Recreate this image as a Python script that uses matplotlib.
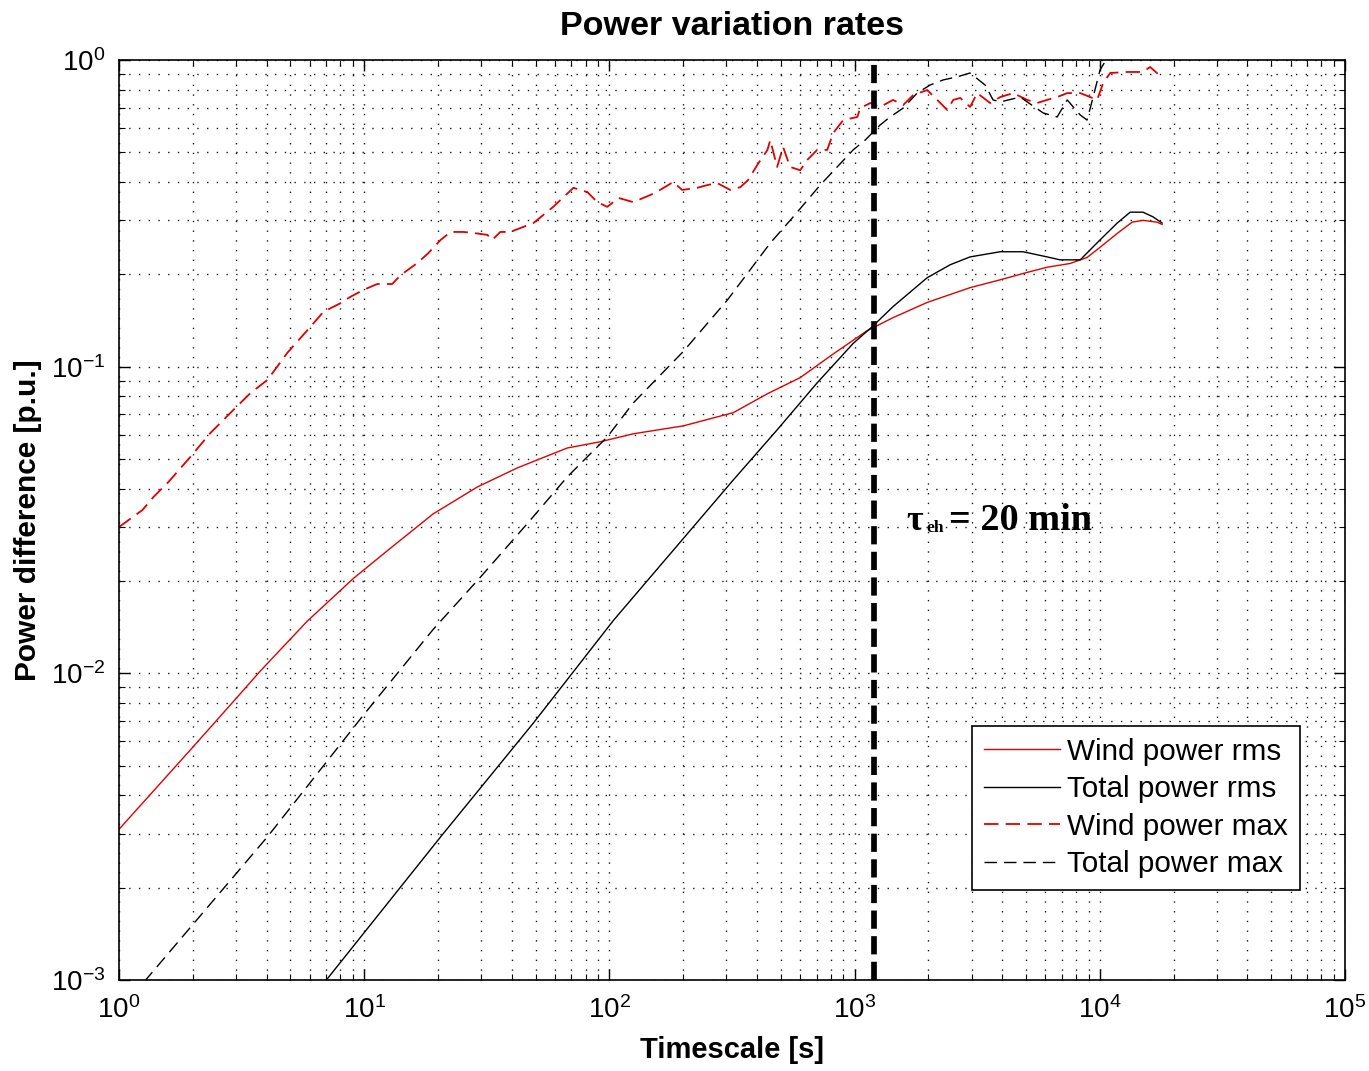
import matplotlib
matplotlib.use("Agg")
import matplotlib.pyplot as plt
import numpy as np

plt.rcParams['font.family'] = ['Liberation Sans', 'DejaVu Sans']
plt.rcParams['mathtext.fontset'] = 'custom'
plt.rcParams['mathtext.rm'] = 'Liberation Sans'
plt.rcParams['mathtext.it'] = 'Liberation Sans:italic'
plt.rcParams['mathtext.bf'] = 'Liberation Sans:bold'

# ---------------- data ----------------
wind_rms_t = [1.0, 1.343, 2.01, 2.93, 3.78, 5.86, 9.04, 12.8, 19.1, 28.9, 42.2, 67.3, 91.8,
              125, 200, 320, 441, 600, 818, 1125, 1435, 1977, 2958, 3926, 5058, 6095,
              7568, 8872, 10020, 11780, 13550, 15000, 17100, 17950]
wind_rms = [0.0031, 0.00403, 0.00577, 0.0081, 0.0102, 0.0148, 0.0204, 0.0256, 0.0331, 0.0405,
            0.0468, 0.0543, 0.0569, 0.0604, 0.0641, 0.0708, 0.0816, 0.0921, 0.110, 0.131,
            0.1445, 0.162, 0.181, 0.192, 0.203, 0.211, 0.217, 0.227, 0.245, 0.272, 0.296,
            0.300, 0.296, 0.291]

total_rms_t = [1.0, 7.01, 20.5, 49.0, 104, 320, 483, 703, 986, 1180, 1435, 1977, 2455, 2958,
               3926, 4864, 6095, 6887, 8318, 10020, 11780, 13300, 15000, 16480, 17950]
total_rms = [1.4e-4, 1.0e-3, 2.93e-3, 6.89e-3, 0.0149, 0.0427, 0.0622, 0.0885, 0.119, 0.135,
             0.157, 0.195, 0.215, 0.228, 0.237, 0.237, 0.228, 0.223, 0.223, 0.259, 0.294,
             0.319, 0.319, 0.308, 0.294]

wind_max_t = [1.0, 1.247, 1.383, 1.592, 1.955, 2.36, 2.93, 3.44, 4.03, 4.86, 6.04, 6.82, 8.0,
              8.79, 9.93, 11.3, 13.0, 14.1, 16.5, 18.3, 20.5, 22.5, 25.4, 27.8, 31.8, 33.3,
              35.9, 39.4, 49.0, 59.0, 71.3, 81.3, 89.3, 98.0, 109, 125, 147, 161, 182, 198,
              228, 251, 275, 311, 342, 368, 401, 441, 453, 483, 511, 546, 600, 641, 703, 773,
              818, 899, 1026, 1054, 1159, 1271, 1435, 1578, 1734, 1977, 2173, 2388, 2525,
              2697, 2958, 3162, 3573, 3926, 4436, 5058, 5546, 6095, 6700, 7365, 8318, 9141,
              9750, 10320, 11020, 12940, 15000, 16030, 17100, 17950]
wind_max = [0.0300, 0.0341, 0.0376, 0.0421, 0.0508, 0.0608, 0.0723, 0.0821, 0.0905, 0.111,
            0.135, 0.151, 0.161, 0.169, 0.178, 0.186, 0.186, 0.199, 0.218, 0.235, 0.259,
            0.275, 0.275, 0.273, 0.269, 0.259, 0.275, 0.275, 0.294, 0.332, 0.383, 0.371,
            0.344, 0.332, 0.355, 0.344, 0.363, 0.377, 0.400, 0.377, 0.383, 0.391, 0.397,
            0.377, 0.385, 0.406, 0.455, 0.509, 0.548, 0.448, 0.520, 0.448, 0.437, 0.472,
            0.509, 0.509, 0.578, 0.637, 0.652, 0.697, 0.724, 0.703, 0.741, 0.713, 0.769,
            0.798, 0.741, 0.687, 0.741, 0.752, 0.703, 0.780, 0.724, 0.757, 0.780, 0.741,
            0.724, 0.741, 0.757, 0.780, 0.780, 0.757, 0.741, 0.841, 0.907, 0.914, 0.914,
            0.949, 0.907, 0.873]

total_max_t = [1.0, 4.03, 9.93, 19.1, 29.8, 47.6, 67.3, 98.0, 125, 200, 303, 453, 562, 724,
               986, 1104, 1271, 1396, 1578, 1799, 2033, 2296, 2618, 2958, 3405, 3671, 3926,
               4735, 5875, 6700, 7365, 8318, 8872, 9394, 10020, 10720, 12000, 13500, 15000,
               17950]
total_max = [7.9e-4, 2.93e-3, 7.31e-3, 0.0139, 0.0206, 0.0316, 0.0437, 0.0590, 0.0761, 0.112,
             0.165, 0.253, 0.308, 0.391, 0.509, 0.548, 0.614, 0.652, 0.697, 0.780, 0.829,
             0.861, 0.881, 0.907, 0.829, 0.741, 0.730, 0.757, 0.672, 0.652, 0.741, 0.662,
             0.637, 0.757, 0.927, 1.015, 1.08, 1.0, 1.08, 1.05]

tau_eh = 1200  # 20 min

legend_labels = ['Wind power rms', 'Total power rms', 'Wind power max', 'Total power max']

# ---------------- figure ----------------
W, H = 1369, 1071
fig = plt.figure(figsize=(W / 100, H / 100), dpi=100)
ax = fig.add_axes([119 / W, (H - 980) / H, (1345 - 119) / W, (980 - 60) / H])

red = (0.88, 0.0, 0.0)
ax.plot(wind_rms_t, wind_rms, color=red, lw=1.0, label=legend_labels[0])
ax.plot(total_rms_t, total_rms, color='k', lw=1.0, label=legend_labels[1])
ax.plot(wind_max_t, wind_max, color=red, lw=1.3, dashes=(8, 4), label=legend_labels[2])
ax.plot(total_max_t, total_max, color='k', lw=1.0, dashes=(9, 5), label=legend_labels[3])

ax.axvline(tau_eh, color='k', lw=4.1, dashes=(3.2, 1.3))

ax.set_xscale('log')
ax.set_yscale('log')
ax.set_xlim(1, 1e5)
ax.set_ylim(1e-3, 1)

ax.grid(True, which='both', color='0.1', lw=1.0, linestyle=(0, (1, 6)))
ax.tick_params(which='both', direction='in', top=True, right=True, labelsize=20)
ax.tick_params(axis='x', which='both', pad=12)
ax.tick_params(axis='y', which='both', pad=10)
ax.tick_params(which='major', length=8, width=1)
ax.tick_params(which='minor', length=4.5, width=0.8)
for s in ax.spines.values():
    s.set_linewidth(1.2)

ax.set_title('Power variation rates', fontsize=24.5, fontweight='bold', pad=18)
ax.set_xlabel('Timescale [s]', fontsize=21, fontweight='bold', labelpad=8)
ax.set_ylabel('Power difference [p.u.]', fontsize=21.5, fontweight='bold', labelpad=6)

leg = ax.legend(loc='lower right', bbox_to_anchor=(0.963, 0.098), borderaxespad=0,
                fontsize=21.3, fancybox=False, framealpha=1, edgecolor='k',
                handlelength=2.55, handletextpad=0.25, labelspacing=0.32, borderpad=0.4)
leg.get_frame().set_linewidth(1.2)

# annotation tau_eh = 20 min
fig.text(906 / W, 1 - 530 / H, '\u03c4', fontsize=26, fontweight='bold',
         family='Liberation Serif', va='baseline', ha='left')
fig.text(926 / W, 1 - 532 / H, 'eh', fontsize=12.5, fontweight='bold',
         family='Liberation Serif', va='baseline', ha='left')
fig.text(949 / W, 1 - 530 / H, '= 20 min', fontsize=27.5, fontweight='bold',
         family='Liberation Serif', va='baseline', ha='left')

fig.savefig('out.png', dpi=100)
